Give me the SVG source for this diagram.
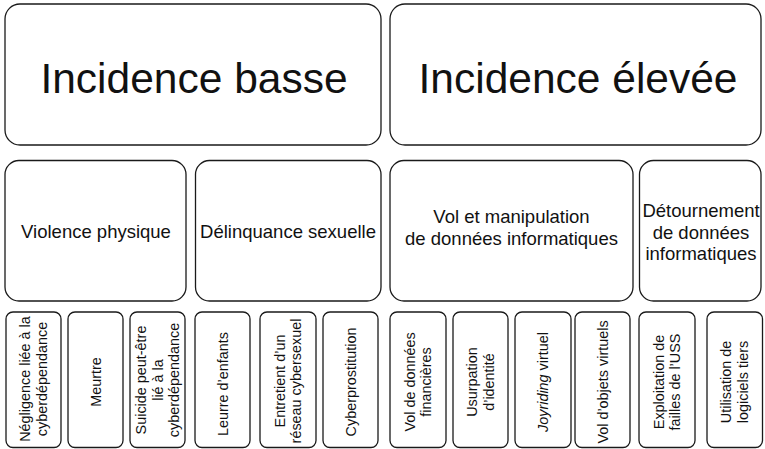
<svg xmlns="http://www.w3.org/2000/svg" width="765" height="449" viewBox="0 0 765 449">
<style>
.box{fill:#fff;stroke:#1a1a1a;stroke-width:1.3}
text{font-family:"Liberation Sans",Arial,sans-serif;fill:#111;text-anchor:middle}
.t1{font-size:42.5px}
.t2{font-size:18.5px}
.t3{font-size:14.4px}
</style>
<rect width="765" height="449" fill="#fff"/>
<g id="connectors"/>
<g id="incidence-basse"><rect class="box" x="5" y="4" width="376" height="141" rx="15"/><text class="t1" x="194" y="93">Incidence basse</text></g>
<g id="incidence-elevee"><rect class="box" x="390" y="4" width="371" height="141" rx="15"/><text class="t1" x="578" y="93">Incidence élevée</text></g>

<g id="violence-physique"><rect class="box" x="5" y="160.5" width="181" height="140.5" rx="14"/><text class="t2" x="96" y="238">Violence physique</text></g>
<g id="delinquance-sexuelle"><rect class="box" x="195.5" y="160.5" width="185.5" height="140.5" rx="14"/><text class="t2" x="288" y="238">Délinquance sexuelle</text></g>
<g id="vol-manipulation"><rect class="box" x="390" y="160.5" width="243" height="140.5" rx="14"/><text class="t2" x="511.5" y="223">Vol et manipulation</text><text class="t2" x="511.5" y="245">de données informatiques</text></g>
<g id="detournement"><rect class="box" x="639.5" y="160.5" width="121.5" height="140.5" rx="14"/><text class="t2" x="701" y="217">Détournement</text><text class="t2" x="701" y="238.5">de données</text><text class="t2" x="701" y="260">informatiques</text></g>

<g id="negligence"><rect class="box" x="6" y="312" width="55" height="135.5" rx="7"/><text class="t3" transform="translate(33.5,379) rotate(-90)"><tspan x="0" y="-3.5">Négligence liée à la</tspan><tspan x="0" y="13">cyberdépendance</tspan></text></g>
<g id="meurtre"><rect class="box" x="68" y="312" width="55" height="135.5" rx="7"/><text class="t3" transform="translate(95.5,382) rotate(-90)" y="5">Meurtre</text></g>
<g id="suicide"><rect class="box" x="130" y="312" width="55" height="135.5" rx="7"/><text class="t3" transform="translate(157.5,380) rotate(-90)"><tspan x="0" y="-11.5">Suicide peut-être</tspan><tspan x="0" y="5">lié à la</tspan><tspan x="0" y="21.5">cyberdépendance</tspan></text></g>
<g id="leurre"><rect class="box" x="195" y="312" width="55" height="135.5" rx="7"/><text class="t3" transform="translate(222.5,384) rotate(-90)" y="5">Leurre d’enfants</text></g>
<g id="entretien"><rect class="box" x="260" y="312" width="56" height="135.5" rx="7"/><text class="t3" transform="translate(288,381) rotate(-90)"><tspan x="0" y="-3.5">Entretient d’un</tspan><tspan x="0" y="13">réseau cybersexuel</tspan></text></g>
<g id="cyberprostitution"><rect class="box" x="323" y="312" width="55" height="135.5" rx="7"/><text class="t3" transform="translate(350.5,382) rotate(-90)" y="5">Cyberprostitution</text></g>
<g id="vol-donnees-financieres"><rect class="box" x="390" y="312" width="56" height="135.5" rx="7"/><text class="t3" transform="translate(418,382) rotate(-90)"><tspan x="0" y="-3.5">Vol de données</tspan><tspan x="0" y="13">financières</tspan></text></g>
<g id="usurpation"><rect class="box" x="453" y="312" width="55" height="135.5" rx="7"/><text class="t3" transform="translate(480.5,382) rotate(-90)"><tspan x="0" y="-3.5">Usurpation</tspan><tspan x="0" y="13">d’identité</tspan></text></g>
<g id="joyriding"><rect class="box" x="515" y="312" width="56" height="135.5" rx="7"/><text class="t3" transform="translate(543,382) rotate(-90)" y="5"><tspan font-style="italic">Joyriding</tspan> virtuel</text></g>
<g id="vol-objets-virtuels"><rect class="box" x="575" y="312" width="55" height="135.5" rx="7"/><text class="t3" transform="translate(602.5,382) rotate(-90)" y="5">Vol d’objets virtuels</text></g>
<g id="exploitation"><rect class="box" x="639" y="312" width="56" height="135.5" rx="7"/><text class="t3" transform="translate(667,382) rotate(-90)"><tspan x="0" y="-3.5">Exploitation de</tspan><tspan x="0" y="13">failles de l’USS</tspan></text></g>
<g id="utilisation"><rect class="box" x="707" y="312" width="55.5" height="135.5" rx="7"/><text class="t3" transform="translate(734.75,382) rotate(-90)"><tspan x="0" y="-3.5">Utilisation de</tspan><tspan x="0" y="13">logiciels tiers</tspan></text></g>
</svg>
